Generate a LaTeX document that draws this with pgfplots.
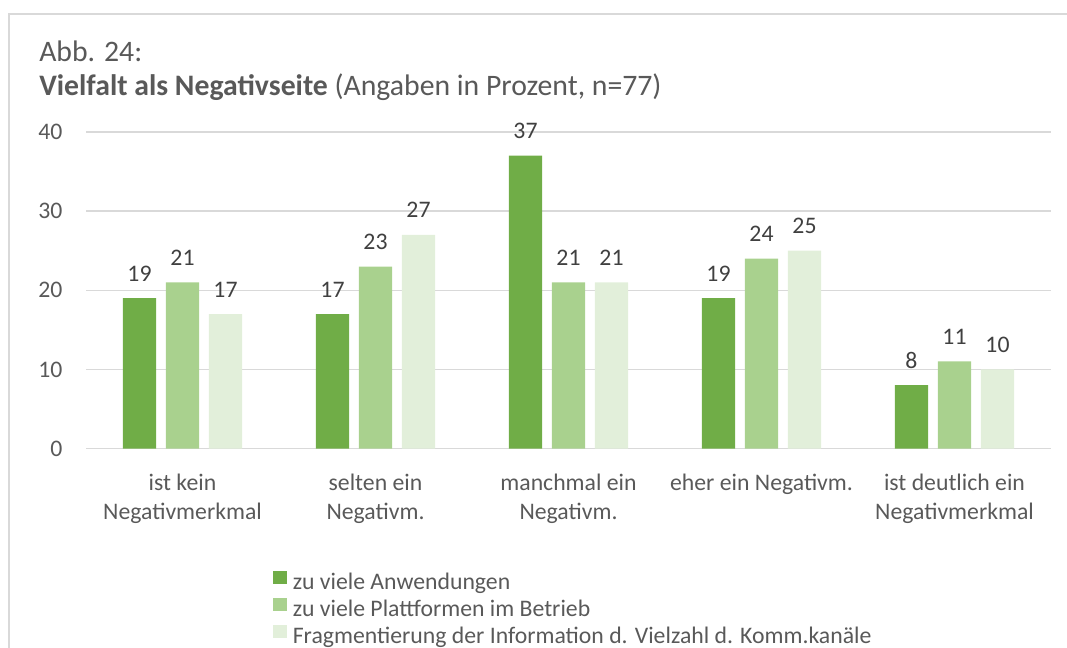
\documentclass[border=0pt]{standalone}
\usepackage{pgfplots}
\pgfplotsset{compat=1.18}
\usepackage{fontspec}
\setmainfont{Carlito}
\definecolor{gA}{HTML}{70AD47}
\definecolor{gB}{HTML}{A9D18E}
\definecolor{gC}{HTML}{E2EFDA}
\definecolor{txt}{HTML}{595959}
\definecolor{lbl}{HTML}{404040}
\definecolor{grd}{HTML}{D9D9D9}
\begin{document}
\begin{tikzpicture}
\path[use as bounding box] (0,0) rectangle (800.25pt,486pt);
\draw[grd, line width=1.5pt] (6.75pt,0pt) -- (6.75pt,475.5pt) -- (800.25pt,475.5pt);
\node[anchor=base west, inner sep=0pt, text=txt, font=\fontsize{22.3}{24}\selectfont] at (29.25pt,439.7pt) {Abb. 24:};
\node[anchor=base west, inner sep=0pt, text=txt, font=\fontsize{22.3}{24}\selectfont] at (29.25pt,414pt) {\textbf{Vielfalt als Negativseite} (Angaben in Prozent, n=77)};
\begin{axis}[
  at={(64.5pt,149.6pt)}, anchor=south west,
  scale only axis, width=723.75pt, height=237.4pt,
  ybar, bar width=25pt,
  xmin=-0.5, xmax=4.5, ymin=0, ymax=40,
  ytick={0,10,20,30,40},
  xtick={0,1,2,3,4},
  xticklabels={{ist kein\\Negativmerkmal},{selten ein\\Negativm.},{manchmal ein\\Negativm.},{eher ein Negativm.},{ist deutlich ein\\Negativmerkmal}},
  xticklabel style={align=center, text=txt, font=\fontsize{17.8}{21.75}\selectfont, inner sep=0pt, yshift=-19pt},
  yticklabel style={text=txt, font=\fontsize{17.8}{20}\selectfont, inner sep=0pt, xshift=-17.5pt},
  /pgf/number format/assume math mode=true,
  axis line style={draw=none},
  major tick length=0pt,
  ymajorgrids, grid style={grd, line width=1.1pt},
  nodes near coords,
  every node near coord/.append style={text=lbl, font=\fontsize{17.8}{20}\selectfont, inner sep=0pt, anchor=south, yshift=12.5pt},
  legend style={at={(0.194,-0.385)}, anchor=north west, draw=none, fill=none, inner sep=0pt,
    nodes={inner sep=0pt, text height=13pt, text depth=5pt, text=txt, font=\fontsize{17.8}{20}\selectfont},
    row sep=1.2pt},
  legend cell align=left,
  legend image code/.code={\fill[#1, draw=none] (0pt,0pt) rectangle (10pt,10pt); \path (14.5pt,0pt);},
]
\addplot[fill=gA, draw=none, bar shift=-32.25pt] coordinates {(0,19) (1,17) (2,37) (3,19) (4,8)};
\addplot[fill=gB, draw=none, bar shift=0pt] coordinates {(0,21) (1,23) (2,21) (3,24) (4,11)};
\addplot[fill=gC, draw=none, bar shift=32.25pt] coordinates {(0,17) (1,27) (2,21) (3,25) (4,10)};
\legend{zu viele Anwendungen, zu viele Plattformen im Betrieb, Fragmentierung der Information d. Vielzahl d. Komm.kanäle}
\end{axis}
\end{tikzpicture}
\end{document}
